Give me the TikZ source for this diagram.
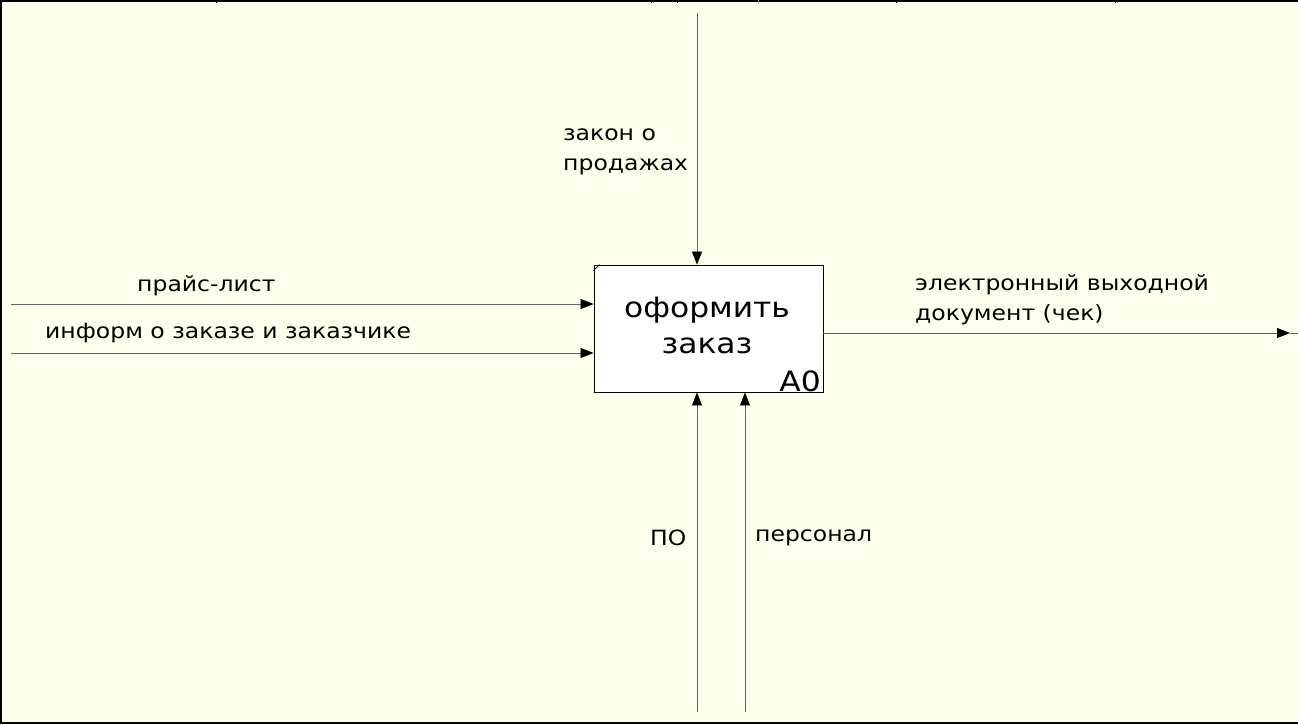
\documentclass[tikz,border=0pt]{standalone}
\usepackage{fontspec}
\setmainfont{DejaVu Sans}[FakeStretch=1.12]
\usetikzlibrary{arrows.meta}
\definecolor{bgyellow}{RGB}{255,255,235}
\definecolor{linegray}{RGB}{100,100,100}
\begin{document}
\begin{tikzpicture}[x=1pt,y=-1pt,
  flow/.style={draw=linegray,line width=0.8pt,-{Triangle[length=13pt,width=10pt,color=black]}},
  plain/.style={draw=linegray,line width=0.8pt},
  lbl/.style={font=\fontsize{21}{30}\selectfont,inner sep=0pt,align=left},
  func/.style={draw=black,fill=white,line width=0.9pt,minimum width=229pt,minimum height=127pt,inner sep=0pt},
  frame/.style={draw=black,line width=2pt},
  tick/.style={draw=black,line width=1pt}]
\useasboundingbox (0,0) rectangle (1298,724);
\fill[bgyellow] (0,0) rectangle (1298,724);
% frame
\draw[frame] (0,1) -- (1298,1);
\draw[frame] (1,0) -- (1,724);
\draw[frame] (0,723) -- (1298,723);
\foreach \tx in {216,651,677,896,1115} \draw[tick] (\tx,0) -- (\tx,3);
\draw[draw=gray,line width=1pt] (758,0) -- (758,3);
% function box
\node[func] (box) at (708.5,328.5) {};
\node[font=\fontsize{28}{36}\selectfont,align=center,inner sep=0pt] (ftext) at (707,325) {оформить\\заказ};
\node[font=\fontsize{28}{28}\selectfont,anchor=base east,inner sep=0pt] (a0) at (821,391) {A0};
\draw[line width=0.6pt] ([yshift=-6pt]box.north west) -- ([xshift=6pt]box.north west);
% control
\coordinate (ctop) at (697,13);
\draw[flow] (ctop) -- (ctop |- box.north);
\node[lbl,anchor=base west] (lctl) at (563,170) {закон о\\продажах};
% inputs
\coordinate (in1) at (11,304);
\coordinate (in2) at (11,353);
\draw[flow] (in1) -- (in1 -| box.west);
\draw[flow] (in2) -- (in2 -| box.west);
\node[lbl,anchor=base west] (lin1) at (137,291) {прайс-лист};
\node[lbl,anchor=base west] (lin2) at (45,338) {информ о заказе и заказчике};
% output
\coordinate (outtip) at (1290,333);
\coordinate (out) at (1298,333);
\draw[flow] (outtip -| box.east) -- (outtip);
\draw[plain] (outtip) -- (out);
\node[lbl,anchor=base west] (lout) at (915,320) {электронный выходной\\документ (чек)};
% mechanisms
\coordinate (m1) at (697,712);
\coordinate (m2) at (745,712);
\draw[flow] (m1) -- (m1 |- box.south);
\draw[flow] (m2) -- (m2 |- box.south);
\node[lbl,anchor=base west] (lm1) at (650,545) {ПО};
\node[lbl,anchor=base west] (lm2) at (755,541) {персонал};
\end{tikzpicture}
\end{document}
